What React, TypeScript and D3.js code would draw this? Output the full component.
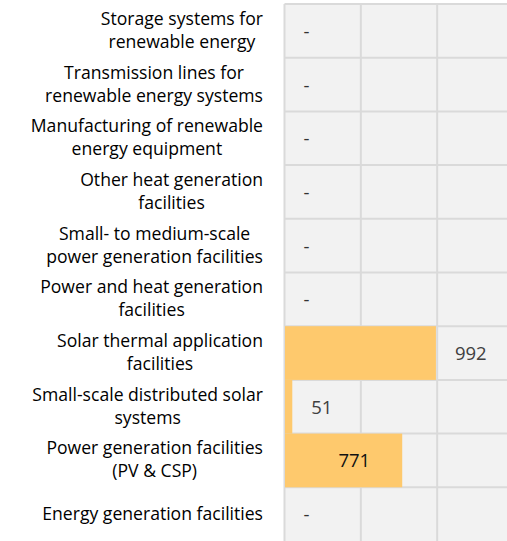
import React, { useRef, useEffect } from "react";
import * as d3 from "d3";

// categories top to bottom, each split in its wrapped lines
const categories = [
  "Storage systems for renewable energy",
  "Transmission lines for renewable energy systems",
  "Manufacturing of renewable energy equipment",
  "Other heat generation facilities",
  "Small- to medium-scale power generation facilities",
  "Power and heat generation facilities",
  "Solar thermal application facilities",
  "Small-scale distributed solar systems",
  "Power generation facilities (PV & CSP)",
  "Energy generation facilities",
];
const categoryLines = [
  ["Storage systems for", "renewable energy"],
  ["Transmission lines for", "renewable energy systems"],
  ["Manufacturing of renewable", "energy equipment"],
  ["Other heat generation", "facilities"],
  ["Small- to medium-scale", "power generation facilities"],
  ["Power and heat generation", "facilities"],
  ["Solar thermal application", "facilities"],
  ["Small-scale distributed solar", "systems"],
  ["Power generation facilities", "(PV & CSP)"],
  ["Energy generation facilities"],
];
const values: (number | null)[] = [null, null, null, null, null, null, 992, 51, 771, null];
const gridTicks = [0, 500, 1000, 1500];
// labels drawn inside the bar end
const insideLabels = ["Power generation facilities (PV & CSP)"];

const App = () => {
  const ref = useRef<SVGSVGElement>(null);
  const w = 507,
    h = 541;

  useEffect(() => {
    const svg = d3.select(ref.current);
    svg.selectAll("*").remove();

    const x = d3.scaleLinear().domain([0, 1500]).range([284.5, 513.5]);
    const y = d3.scaleBand().domain(categories).range([4, 541]);
    const bw = y.bandwidth();

    // grid background and lines
    svg
      .append("rect")
      .attr("x", x(0))
      .attr("y", 4)
      .attr("width", w - x(0) + 10)
      .attr("height", h - 4)
      .attr("fill", "#f2f2f2");

    svg
      .append("g")
      .selectAll("line")
      .data(gridTicks)
      .join("line")
      .attr("x1", (d) => x(d))
      .attr("x2", (d) => x(d))
      .attr("y1", 4)
      .attr("y2", h + 2)
      .attr("stroke", "#dadada")
      .attr("stroke-width", 2);

    svg
      .append("g")
      .selectAll("line")
      .data(categories)
      .join("line")
      .attr("x1", x(0))
      .attr("x2", w + 2)
      .attr("y1", (d) => y(d)!)
      .attr("y2", (d) => y(d)!)
      .attr("stroke", "#dadada")
      .attr("stroke-width", 2);

    // bars
    svg
      .append("g")
      .selectAll("rect")
      .data(categories.filter((c, i) => values[i] != null))
      .join("rect")
      .attr("x", x(0) + 0.5)
      .attr("y", (d) => y(d)!)
      .attr("width", (d) => x(values[categories.indexOf(d)]!) - x(0) - 0.5)
      .attr("height", bw)
      .attr("fill", "#fec96d");

    // value labels
    svg
      .append("g")
      .attr("font-family", "'Open Sans', sans-serif")
      .attr("font-size", 18.5)
      .selectAll("text")
      .data(categories)
      .join("text")
      .each(function (d, i) {
        const v = values[i];
        const t = d3.select(this).attr("y", y(d)! + bw / 2 + 7);
        if (v == null) {
          t.attr("x", x(0) + 19).attr("fill", "#333").text("-");
        } else if (insideLabels.includes(d)) {
          t.attr("x", x(v) - 32).attr("text-anchor", "end").attr("fill", "#111").text(v);
        } else {
          t.attr("x", x(v) + 19).attr("fill", "#404040").text(v);
        }
      });

    // category labels, lines centred on each other, block flush to the grid
    const labels = svg
      .append("g")
      .attr("font-family", "'Open Sans', sans-serif")
      .attr("font-size", 17.6)
      .attr("fill", "#000");
    categories.forEach((c, i) => {
      const lines = categoryLines[i];
      const cy = y(c)! + bw / 2;
      const t = labels.append("text").attr("text-anchor", "middle");
      const spans = lines.map((l, j) =>
        t
          .append("tspan")
          .attr("y", cy + 5.5 + 23 * (j - (lines.length - 1) / 2))
          .text(l)
      );
      const maxW = d3.max(spans, (s) => (s.node() as SVGTSpanElement).getComputedTextLength())!;
      const cx = 263 - maxW / 2;
      spans.forEach((s) => s.attr("x", cx));
    });
  }, []);

  return (
    <svg
      ref={ref}
      width={w}
      height={h}
      style={{ position: "absolute", left: 0, top: 0, background: "#fff" }}
    ></svg>
  );
};

export default App;
